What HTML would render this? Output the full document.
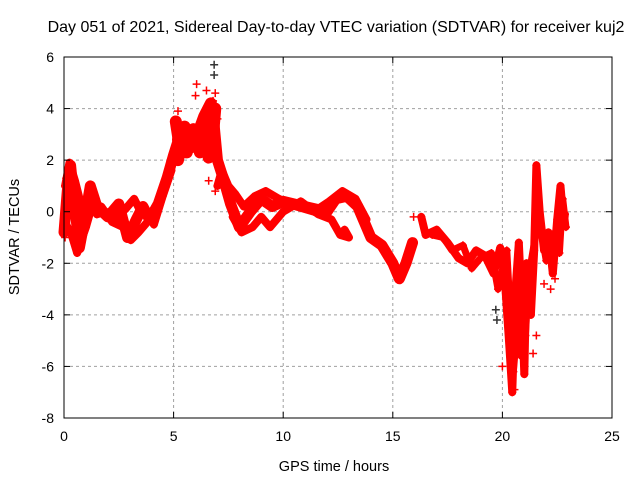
<!DOCTYPE html>
<html><head><meta charset="utf-8"><style>
body{margin:0;background:#fff;}
svg{display:block;font-family:"Liberation Sans",sans-serif;}
</style></head><body>
<svg id="chart" width="640" height="480" viewBox="0 0 640 480">
<text x="336" y="32" text-anchor="middle" font-size="16">Day 051 of 2021, Sidereal Day-to-day VTEC variation (SDTVAR) for receiver kuj2</text>
<g id="grid"></g>
<g id="marks"></g>
<rect x="64" y="57" width="548" height="361" fill="none" stroke="#000" stroke-width="1"/>
<g id="axes"></g>
<text x="334" y="471" text-anchor="middle" font-size="14.5">GPS time / hours</text>
<text transform="translate(19,237) rotate(-90)" text-anchor="middle" font-size="14.5">SDTVAR / TECUs</text>
</svg>
<script>
const xTicks=[0,5,10,15,20,25];
const yTicks=[-8,-6,-4,-2,0,2,4,6];
// tracks: [hour, TECU]
const trackMain=[[0,-0.8],[0.15,0.8],[0.3,1.8],[0.45,0.5],[0.7,-1.4],[0.9,-0.5],[1.2,1.0],[1.5,0.2],[2.0,-0.2],[2.5,0.3],[2.9,-1.0],[3.3,-0.3],[3.6,0.2],[3.9,-0.3],[4.3,0.3],[4.7,1.3],[5.0,2.2],[5.3,3.0],[5.7,2.7],[6.1,2.6],[6.5,3.2],[6.8,3.8],[7.0,2.0],[7.3,1.2],[7.6,0.3],[8.0,-0.6],[8.5,0.0],[9.0,0.5],[9.5,0.2],[10.0,0.4],[10.5,0.3],[11.0,0.2],[11.5,0.1],[12.0,0.0],[12.4,0.5],[12.9,0.6],[13.4,0.2],[14.0,-1.0],[14.5,-1.3],[15.0,-2.0],[15.3,-2.6],[15.6,-2.0],[15.9,-1.2]];
const trackEarly=[[0.05,1.0],[0.25,1.9],[0.5,1.2],[0.8,0.2],[1.1,0.4],[1.5,-0.1],[1.9,0.0],[2.4,-0.2],[2.8,0.1],[3.2,0.5],[3.5,0.0],[3.8,0.0],[4.1,-0.5],[4.5,0.6],[4.9,1.6]];
const trackEarlyLow=[[0.1,-0.5],[0.35,-0.9],[0.6,-1.6],[0.75,-1.2],[1.0,-0.6],[1.3,0.3],[1.7,0.2],[2.2,-0.4],[2.7,-0.6],[3.05,-1.1],[3.4,-0.8],[3.8,-0.4]];
const trackBlob=[[5.1,3.5],[5.3,2.4],[5.6,2.3],[5.9,3.2],[6.2,2.3],[6.5,2.9],[6.6,2.1],[6.8,3.0],[6.9,4.0]];
const trackBlob2=[[5.2,2.0],[5.5,3.3],[5.8,2.9],[6.1,3.0],[6.4,3.7],[6.7,4.2]];
const trackBlob3=[[5.2,2.8],[5.5,2.6],[5.8,2.5],[6.1,2.8],[6.4,2.6],[6.7,3.4]];
const trackUpperA=[[7.0,1.0],[7.2,1.6],[7.5,1.0],[7.8,0.7],[8.2,0.2],[8.7,0.6],[9.2,0.8],[9.8,0.5],[10.6,0.2],[11.4,0.0],[12.1,0.4],[12.7,0.8],[13.3,0.5],[13.8,-0.3]];
const trackLowB=[[7.7,-0.2],[8.1,-0.8],[8.6,-0.6],[9.0,-0.2],[9.4,-0.6],[10.0,0.0],[10.8,0.4],[11.6,-0.1],[12.2,-0.3],[12.6,-0.9],[13.0,-1.0],[12.8,-0.7]];
const trackLate=[[16.3,-0.2],[16.5,-0.9],[17.0,-0.7],[17.5,-1.2],[18.0,-1.8],[18.4,-2.0],[18.8,-1.5],[19.2,-1.7],[19.6,-2.4],[19.9,-1.4],[20.1,-2.5],[20.3,-5.0],[20.45,-7.0],[20.6,-3.0],[20.75,-1.2],[20.9,-4.0],[21.0,-6.3],[21.1,-2.0],[21.3,-4.0],[21.45,-1.5],[21.55,1.8],[21.7,0.0],[21.9,-1.5],[22.1,-0.8],[22.3,-2.4],[22.5,-0.3],[22.65,1.0],[22.8,-0.5],[22.85,-0.1]];
const trackLate2=[[16.8,-0.9],[17.3,-1.0],[17.7,-1.5],[18.2,-1.3],[18.6,-2.2],[19.0,-1.8],[19.5,-1.6],[19.8,-3.0],[20.2,-1.5],[20.35,-3.8],[20.5,-6.2],[20.7,-4.2],[20.85,-5.6],[21.05,-4.8],[21.2,-2.5],[21.5,-1.0],[21.6,1.0],[21.8,-0.9],[22.0,-1.9],[22.2,-1.2],[22.4,-0.8],[22.6,-1.6],[22.75,0.5],[22.9,-0.6]];
const scatterPts=[[6.0,4.5],[6.05,4.95],[6.3,3.4],[6.5,4.7],[6.8,4.3],[6.85,5.7],[6.85,5.3],[6.9,4.6],[7.0,3.6],[7.05,2.0],[6.6,1.2],[6.9,0.8],[5.2,3.9],[0.05,-1.0],[0.1,1.3],[15.95,-0.2],[19.7,-3.8],[19.75,-4.2],[20.2,-2.0],[20.25,-3.5],[21.55,-4.8],[21.4,-5.5],[21.9,-2.8],[22.4,-2.6],[22.2,-3.0],[20.55,-6.9],[20.0,-6.0]];
const X0=64,X1=612,Y0=418,Y1=57;
const xs=h=>X0+(h-0)/25*(X1-X0);
const ys=v=>Y0-(v+8)/14*(Y0-Y1);
const NS="http://www.w3.org/2000/svg";
const grid=document.getElementById('grid'),axes=document.getElementById('axes'),marks=document.getElementById('marks');
function mk(tag,attrs,parent){const e=document.createElementNS(NS,tag);for(const k in attrs)e.setAttribute(k,attrs[k]);parent.appendChild(e);return e;}
xTicks.forEach(t=>{const x=xs(t);
 if(t>0&&t<25){const g=mk('line',{x1:x,x2:x,y1:Y1,y2:Y0,stroke:'#a0a0a0','stroke-dasharray':'3,3'},grid);}
 const l=mk('line',{x1:x,x2:x,y1:Y0,y2:Y0-6,stroke:'#000'},axes);
 const l2=mk('line',{x1:x,x2:x,y1:Y1,y2:Y1+6,stroke:'#000'},axes);
 const tx=mk('text',{x:x,y:Y0+23,'text-anchor':'middle','font-size':'14'},axes);tx.textContent=t;});
yTicks.forEach(t=>{const y=ys(t);
 if(t>-8&&t<6){const g=mk('line',{x1:X0,x2:X1,y1:y,y2:y,stroke:'#a0a0a0','stroke-dasharray':'3,3'},grid);}
 const l=mk('line',{x1:X0,x2:X0+6,y1:y,y2:y,stroke:'#000'},axes);
 const l2=mk('line',{x1:X1,x2:X1-6,y1:y,y2:y,stroke:'#000'},axes);
 const tx=mk('text',{x:X0-10,y:y+5,'text-anchor':'end','font-size':'14'},axes);tx.textContent=t;});
function plus(h,v,col){const x=xs(h),y=ys(v);
 const p=mk('path',{d:`M${x-4},${y}H${x+4}M${x},${y-4}V${y+4}`,stroke:col,'stroke-width':1.5,fill:'none'},marks);
 }
function track(arr,w,name){
 const pl=mk('polyline',{points:arr.map(p=>xs(p[0])+','+ys(p[1])).join(' '),fill:'none',stroke:'#ff0000','stroke-width':w,'stroke-linejoin':'round','stroke-linecap':'round'},marks);
 
 arr.forEach(p=>plus(p[0],p[1],'#ff0000'));}
track(trackEarly,8,'track-early');
track(trackEarlyLow,8,'track-early-low');
track(trackBlob,12,'track-blob');
track(trackBlob2,12,'track-blob-2');
track(trackBlob3,12,'track-blob-3');
track(trackUpperA,8,'track-upper');
track(trackLowB,8,'track-low');
track(trackMain,11,'track-main');
track(trackLate2,7,'track-late-2');
track(trackLate,8,'track-late');
scatterPts.forEach(p=>plus(p[0],p[1],p[1]>5||p[1]<-3.7&&p[0]<20?'#333':'#ff0000'));
</script>
</body></html>
